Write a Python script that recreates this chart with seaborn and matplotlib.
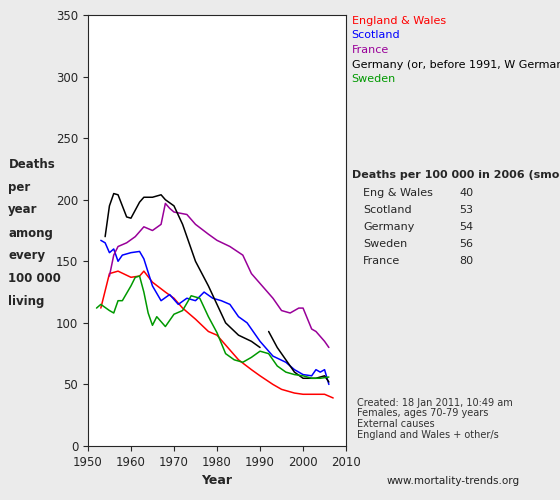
import matplotlib
matplotlib.use("Agg")
import matplotlib.pyplot as plt
import seaborn as sns

ew_years = [1953, 1955, 1957, 1960, 1962, 1963, 1965, 1968, 1970, 1972, 1975, 1978, 1980,
            1983, 1985, 1988, 1990, 1993, 1995, 1998, 2000, 2003, 2005, 2007]
ew_vals = [112, 140, 142, 137, 138, 142, 133, 125, 120, 112, 103, 93, 90,
           78, 70, 62, 57, 50, 46, 43, 42, 42, 42, 39]

sc_years = [1953, 1954, 1955, 1956, 1957, 1958, 1960, 1962, 1963, 1965, 1967, 1969, 1971,
            1973, 1975, 1977, 1979, 1981, 1983, 1985, 1987, 1990, 1993, 1996, 1998, 2000,
            2002, 2003, 2004, 2005, 2006]
sc_vals = [167, 165, 157, 160, 150, 155, 157, 158, 152, 130, 118, 123, 115,
           120, 118, 125, 120, 118, 115, 105, 100, 85, 73, 68, 62, 58,
           57, 62, 60, 62, 50]

fr_years = [1955, 1956, 1957, 1959, 1961, 1963, 1965, 1967, 1968, 1969, 1970, 1973, 1975,
            1978, 1980, 1983, 1986, 1988, 1990, 1993, 1995, 1997, 1999, 2000, 2002, 2003,
            2005, 2006]
fr_vals = [138, 155, 162, 165, 170, 178, 175, 180, 197, 193, 190, 188, 180,
           172, 167, 162, 155, 140, 132, 120, 110, 108, 112, 112, 95, 93, 85, 80]

# West Germany to 1990, unified Germany from 1992
wde_years = [1954, 1955, 1956, 1957, 1958, 1959, 1960, 1962, 1963, 1965, 1967, 1968, 1970,
             1972, 1975, 1978, 1980, 1982, 1985, 1988, 1990]
wde_vals = [170, 195, 205, 204, 195, 186, 185, 198, 202, 202, 204, 200, 195,
            180, 150, 130, 115, 100, 90, 85, 80]
de_years = [1992, 1994, 1996, 1998, 2000, 2003, 2005, 2006]
de_vals = [93, 80, 70, 60, 55, 55, 57, 52]

se_years = [1952, 1953, 1955, 1956, 1957, 1958, 1960, 1961, 1962, 1963, 1964, 1965, 1966,
            1968, 1970, 1972, 1974, 1976, 1978, 1980, 1982, 1984, 1986, 1988, 1990, 1992,
            1994, 1996, 1998, 2000, 2002, 2004, 2006]
se_vals = [112, 115, 110, 108, 118, 118, 130, 137, 138, 125, 108, 98, 105,
           97, 107, 110, 122, 120, 105, 92, 75, 70, 68, 72, 77, 75,
           65, 60, 58, 57, 55, 55, 56]

series = [
    ("England & Wales", [(ew_years, ew_vals)], "#FF0000"),
    ("Scotland", [(sc_years, sc_vals)], "#0000FF"),
    ("France", [(fr_years, fr_vals)], "#990099"),
    ("Germany (or, before 1991, W Germany)", [(wde_years, wde_vals), (de_years, de_vals)], "#000000"),
    ("Sweden", [(se_years, se_vals)], "#009900"),
]

table_labels = ["Eng & Wales", "Scotland", "Germany", "Sweden", "France"]
table_vals = [40, 53, 54, 56, 80]

sns.set_style("ticks")
plt.rcParams["font.family"] = ["DejaVu Sans"]

fig = plt.figure(figsize=(5.6, 5.0), dpi=100, facecolor="#EBEBEB")
ax = fig.add_axes([0.157, 0.108, 0.461, 0.862])
ax.set_facecolor("white")

for name, parts, col in series:
    for xs, ys in parts:
        sns.lineplot(x=xs, y=ys, ax=ax, color=col, linewidth=1.1)

ax.set_xlim(1950, 2010)
ax.set_ylim(0, 350)
ax.set_xticks(range(1950, 2011, 10))
ax.set_yticks(range(0, 351, 50))
ax.tick_params(labelsize=8.5)
ax.set_xlabel("Year", fontsize=9, fontweight="bold")

fig.text(0.015, 0.685, "Deaths\nper\nyear\namong\nevery\n100 000\nliving",
         fontsize=8.5, fontweight="bold", va="top", linespacing=2.0)

y0 = 0.968
for i, (name, _, col) in enumerate(series):
    fig.text(0.628, y0 - i * 0.029, name, color=col, fontsize=8, va="top")

fig.text(0.628, 0.66, "Deaths per 100 000 in 2006 (smoothed)", fontsize=8,
         fontweight="bold", va="top")
for i, (lab, v) in enumerate(zip(table_labels, table_vals)):
    fig.text(0.648, 0.625 - i * 0.0345, lab, fontsize=8, va="top")
    fig.text(0.845, 0.625 - i * 0.0345, str(v), fontsize=8, va="top", ha="right")

fig.text(0.638, 0.205, "Created: 18 Jan 2011, 10:49 am\nFemales, ages 70-79 years\n"
         "External causes\nEngland and Wales + other/s",
         fontsize=7, color="#333333", va="top", linespacing=1.1)
fig.text(0.69, 0.032, "www.mortality-trends.org", fontsize=7.5, color="#222222")

fig.savefig("out.png", dpi=100, facecolor=fig.get_facecolor())
